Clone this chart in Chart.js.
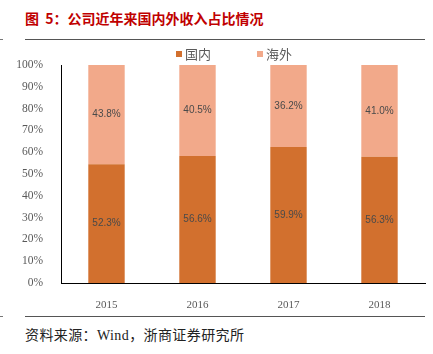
<!DOCTYPE html>
<html>
<head>
<meta charset="utf-8">
<script src="https://cdn.jsdelivr.net/npm/chart.js@4/dist/chart.umd.min.js"></script>
<style>
  html, body { margin: 0; padding: 0; background: #fff; }
  body { width: 433px; height: 354px; position: relative; overflow: hidden; }
  .title { position: absolute; left: 25px; top: 8px; font: bold 14px "Noto Sans CJK SC", sans-serif; color: #c00000; white-space: nowrap; }
  .rule { position: absolute; left: 25px; width: 400px; height: 1px; background: #555; }
  .tick { position: absolute; left: 0; width: 3px; height: 1px; background: #777; }
  .source { position: absolute; left: 25px; top: 324px; font: 14px "Liberation Serif", "Noto Sans CJK SC", serif; color: #222; white-space: nowrap; letter-spacing: 0.4px; }
  #wrap { position: absolute; left: 0; top: 40px; width: 433px; height: 270px; }
</style>
</head>
<body>
<div class="title">图&nbsp; 5：公司近年来国内外收入占比情况</div>
<div class="rule" style="top:39px"></div>
<div class="tick" style="top:39px"></div>
<div id="wrap"><canvas id="chart"></canvas></div>
<div class="rule" style="top:316px"></div>
<div class="tick" style="top:316px"></div>
<div class="source">资料来源：Wind，浙商证券研究所</div>
<script>
// ---- Data ----
const years = ["2015", "2016", "2017", "2018"];
const domestic = [52.3, 56.6, 59.9, 56.3];
const overseas = [43.8, 40.5, 36.2, 41.0];
const seriesNames = ["国内", "海外"];
const yTicks = [0, 10, 20, 30, 40, 50, 60, 70, 80, 90, 100];

const DARK = "#d2702e";
const LIGHT = "#f2a98a";
const SERIF = '"Liberation Serif", "Times New Roman", serif';

// bars are drawn as share of the sum (100% stacked), labels keep the raw values
const share = (a, b) => a.map((v, i) => (v / (v + b[i])) * 100);

const labelPlugin = {
  id: "barLabels",
  afterDatasetsDraw(chart) {
    const ctx = chart.ctx;
    ctx.save();
    ctx.font = '10px "Liberation Sans", Arial, sans-serif';
    ctx.fillStyle = "#4a4a4a";
    ctx.textAlign = "center";
    ctx.textBaseline = "middle";
    chart.data.datasets.forEach((ds, di) => {
      chart.getDatasetMeta(di).data.forEach((bar, i) => {
        const mid = (bar.y + bar.base) / 2;
        ctx.fillText(ds.raw[i].toFixed(1) + "%", bar.x, mid);
      });
    });
    ctx.restore();
  },
};

const legendPlugin = {
  id: "fixedLegend",
  afterDraw(chart) {
    const ctx = chart.ctx;
    const xs = [176, 257];
    ctx.save();
    ctx.font = '13px "Noto Sans CJK SC", sans-serif';
    ctx.textBaseline = "middle";
    chart.data.datasets.forEach((ds, i) => {
      ctx.fillStyle = ds.backgroundColor;
      ctx.fillRect(xs[i], 11, 6, 6);
      ctx.fillStyle = "#595959";
      ctx.fillText(ds.label, xs[i] + 9, 14);
    });
    ctx.restore();
  },
};

new Chart(document.getElementById("chart"), {
  type: "bar",
  data: {
    labels: years,
    datasets: [
      { label: seriesNames[0], data: share(domestic, overseas), raw: domestic, backgroundColor: DARK },
      { label: seriesNames[1], data: share(overseas, domestic), raw: overseas, backgroundColor: LIGHT },
    ],
  },
  options: {
    responsive: true,
    maintainAspectRatio: false,
    animation: false,
    events: [],
    layout: { padding: { top: 25, right: 8, left: 0, bottom: 0 } },
    datasets: { bar: { barPercentage: 0.4, categoryPercentage: 1 } },
    plugins: { legend: { display: false }, tooltip: { enabled: false } },
    scales: {
      x: {
        stacked: true,
        grid: { display: false },
        border: { color: "#000", width: 1 },
        ticks: { color: "#595959", padding: 8, font: { family: SERIF, size: 11 } },
        afterFit: (s) => { s.height = 27; },
      },
      y: {
        stacked: true,
        min: 0,
        max: 100,
        grid: { display: false },
        border: { color: "#000", width: 1 },
        afterBuildTicks: (s) => { s.ticks = yTicks.map((v) => ({ value: v })); },
        ticks: {
          color: "#595959",
          padding: 10,
          font: { family: SERIF, size: 11.5 },
          callback: (v) => v + "%",
        },
        afterFit: (s) => { s.width = 61; },
      },
    },
  },
  plugins: [labelPlugin, legendPlugin],
});
</script>
</body>
</html>
